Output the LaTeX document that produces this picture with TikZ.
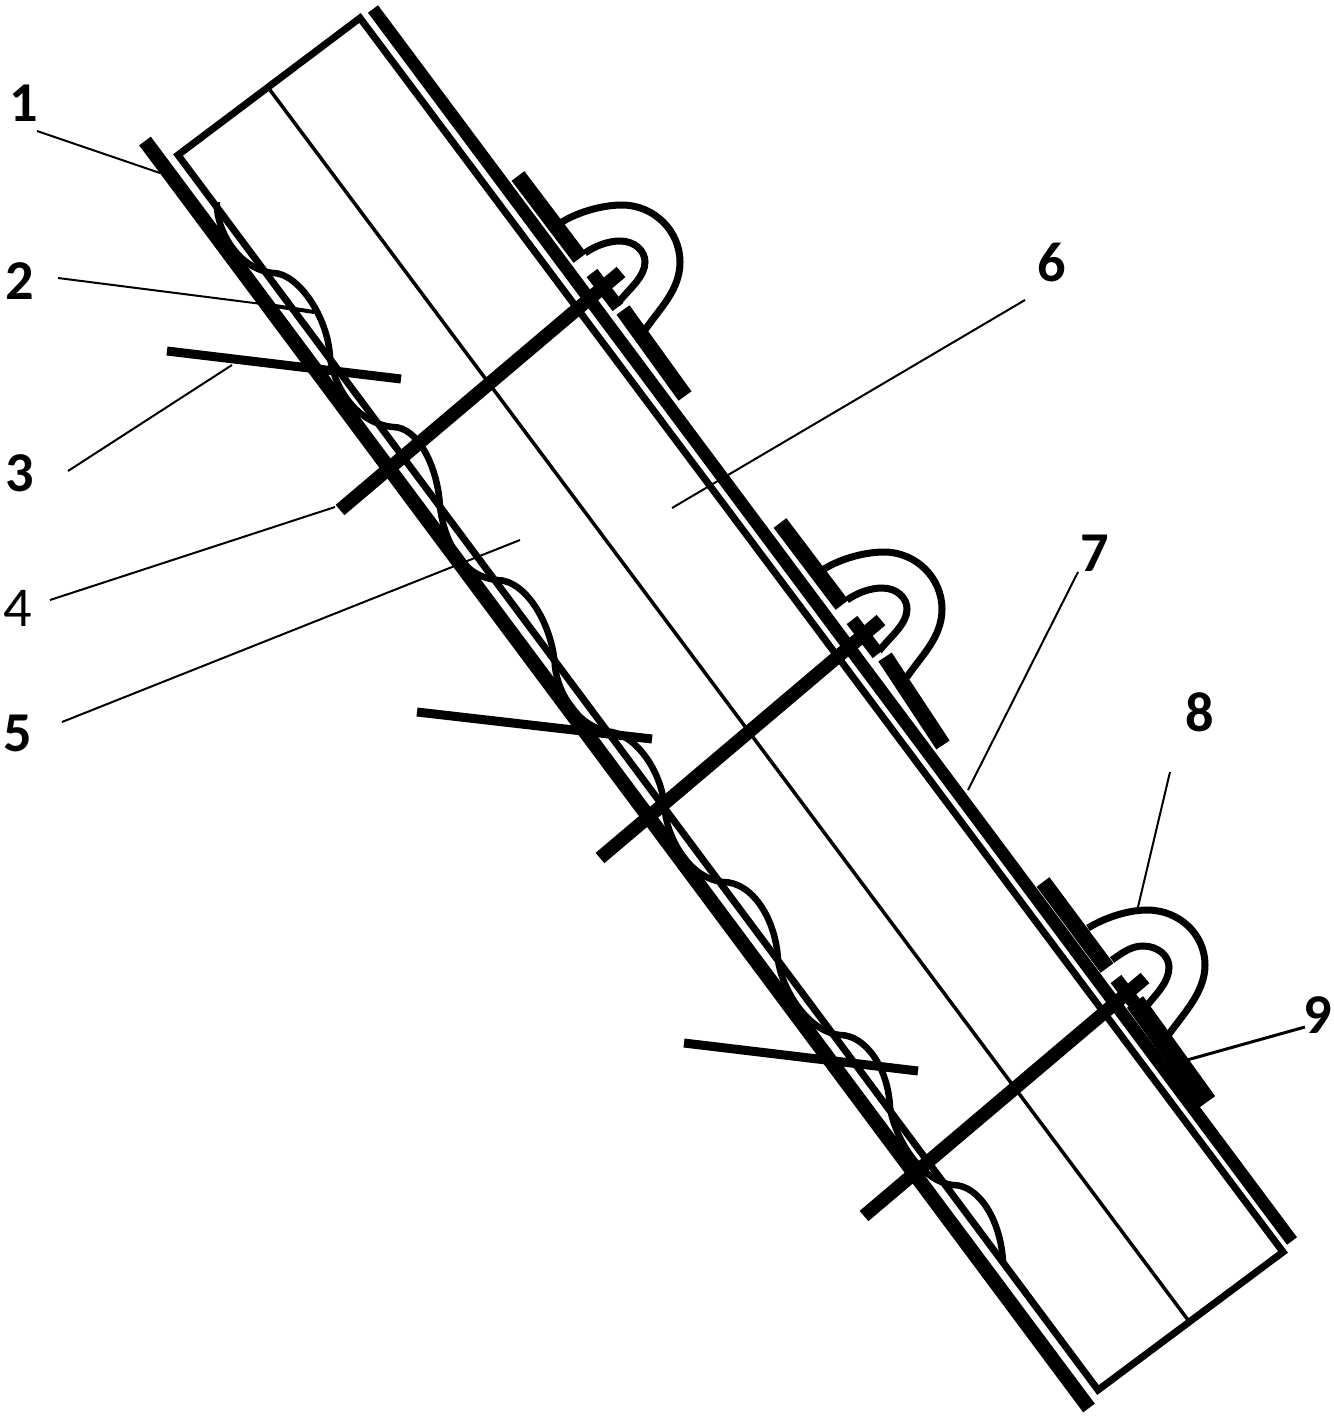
\documentclass[tikz,border=0pt]{standalone}
\usepackage{fontspec}
\setmainfont{Carlito}
\usepackage{tikz}

\begin{document}
\begin{tikzpicture}[x=0.01cm,y=-0.01cm,
  wall/.style={line width=0.07cm,line join=miter},
  midline/.style={line width=0.035cm},
  sheet/.style={line width=0.145cm},
  plate/.style={line width=0.16cm},
  anchorbar/.style={line width=0.135cm},
  crossbar/.style={line width=0.09cm},
  rope/.style={line width=0.065cm},
  hook/.style={line width=0.07cm},
  leader/.style={line width=0.02cm},
  every node/.style={font=\fontsize{16}{16}\selectfont\bfseries,inner sep=0pt}]
  \useasboundingbox (0,0) rectangle (1334,1418);

  % slab and middle line
  \draw[wall] (178,155)--(360,18)--(1283,1252)--(1098,1390)--cycle;
  \draw[midline] (270,90)--(1188,1320);

  % the two sheets
  \draw[sheet] (145,141)--(1089,1408);
  \draw[sheet,line width=0.125cm] (373,9)--(1292,1241);

  % plates on the upper sheet
  \draw[plate] (518,176)--(580,258);
  \draw[plate] (623,310)--(685,396);
  \draw[plate] (780,523)--(842,605);
  \draw[plate] (885,657)--(943,745);
  \draw[plate] (1043,882)--(1107,968);
  \draw[plate,line width=0.2cm] (1135,1002)--(1207,1102);

  % anchors with their heads
  \draw[anchorbar] (340,510)--(621,272);
  \draw[anchorbar] (592,273)--(618,307);
  \draw[anchorbar] (600,858)--(881,620);
  \draw[anchorbar] (852,620)--(878,654);
  \draw[anchorbar] (864,1216)--(1145,978);
  \draw[anchorbar] (1116,979)--(1142,1013);

  % hooks
  \draw[hook] (562,222) .. controls +(18,-11) and +(-18,0) .. (622,205) .. controls +(32,0) and +(0,-31) .. (680,262) .. controls +(0,28) and +(15,-22) .. (645,330);
  \draw[hook] (585,253) .. controls +(10,-7) and +(-12,0) .. (620,241) .. controls +(15,0) and +(0,-11) .. (645,262) .. controls +(0,15) and +(12,-15) .. (617,304);
  \draw[hook] (824,569) .. controls +(18,-11) and +(-18,0) .. (884,552) .. controls +(32,0) and +(0,-31) .. (942,609) .. controls +(0,28) and +(15,-22) .. (907,677);
  \draw[hook] (847,600) .. controls +(10,-7) and +(-12,0) .. (882,588) .. controls +(15,0) and +(0,-11) .. (907,609) .. controls +(0,15) and +(12,-15) .. (879,651);
  \draw[hook] (1088,928) .. controls +(18,-11) and +(-18,0) .. (1147,910) .. controls +(32,0) and +(0,-31) .. (1205,965) .. controls +(0,28) and +(15,-22) .. (1167,1037);
  \draw[hook] (1112,960) .. controls +(10,-7) and +(-12,0) .. (1143,946) .. controls +(15,0) and +(0,-11) .. (1169,967) .. controls +(0,15) and +(12,-15) .. (1145,1008);

  % rope running down the lower sheet
  \draw[rope] (217,202) .. controls +(-2,20) and +(-40,-5) .. (273,273)
    .. controls +(25,0) and +(-2,-40) .. (330,357) .. controls +(3,25) and +(-40,-4) .. (393,427)
    .. controls +(25,0) and +(-2,-40) .. (440,507) .. controls +(3,25) and +(-40,-4) .. (497,580)
    .. controls +(30,0) and +(-2,-40) .. (555,667) .. controls +(3,25) and +(-35,-4) .. (612,732)
    .. controls +(25,5) and +(-2,-40) .. (665,812) .. controls +(3,25) and +(-35,-4) .. (723,882)
    .. controls +(30,0) and +(-2,-40) .. (778,960) .. controls +(3,25) and +(-35,-4) .. (840,1035)
    .. controls +(25,0) and +(-2,-40) .. (890,1107) .. controls +(3,25) and +(-35,-4) .. (953,1185)
    .. controls +(27,0) and +(-2,-40) .. (1003,1262);

  % bars across the lower sheet
  \draw[crossbar] (167,351)--(401,379);
  \draw[crossbar] (417,712)--(652,739);
  \draw[crossbar] (684,1043)--(918,1071);

  % labels
  \node (1) at (24,103) {1};
  \node (2) at (20,281) {2};
  \node (3) at (20,473) {3};
  \node[font=\fontsize{16}{16}\selectfont] (4) at (18,608) {4};
  \node (5) at (18,733) {5};
  \node (6) at (1052,262) {6};
  \node (7) at (1095,553) {7};
  \node (8) at (1200,712) {8};
  \node (9) at (1318,1015) {9};

  \coordinate (a1) at (37,131);
  \coordinate (b1) at (160,173);
  \coordinate (a2) at (58,278);
  \coordinate (b2) at (262,304);
  \coordinate (c2) at (314,312);
  \coordinate (a3) at (68,471);
  \coordinate (b3) at (232,365);
  \coordinate (a4) at (50,600);
  \coordinate (b4) at (335,507);
  \coordinate (a5) at (62,722);
  \coordinate (b5) at (520,540);
  \coordinate (a6) at (1025,300);
  \coordinate (b6) at (672,508);
  \coordinate (a7) at (1078,572);
  \coordinate (b7) at (968,790);
  \coordinate (a8) at (1170,772);
  \coordinate (b8) at (1138,907);
  \coordinate (a9) at (1305,1027);
  \coordinate (b9) at (1187,1060);

  \draw[leader] (a1)--(b1);
  \draw[leader] (a2)--(b2);
  \draw[leader,line width=0.04cm] (b2)--(c2);
  \draw[leader] (a3)--(b3);
  \draw[leader] (a4)--(b4);
  \draw[leader] (a5)--(b5);
  \draw[leader] (a6)--(b6);
  \draw[leader] (a7)--(b7);
  \draw[leader] (a8)--(b8);
  \draw[leader,line width=0.03cm] (a9)--(b9);
\end{tikzpicture}
\end{document}
